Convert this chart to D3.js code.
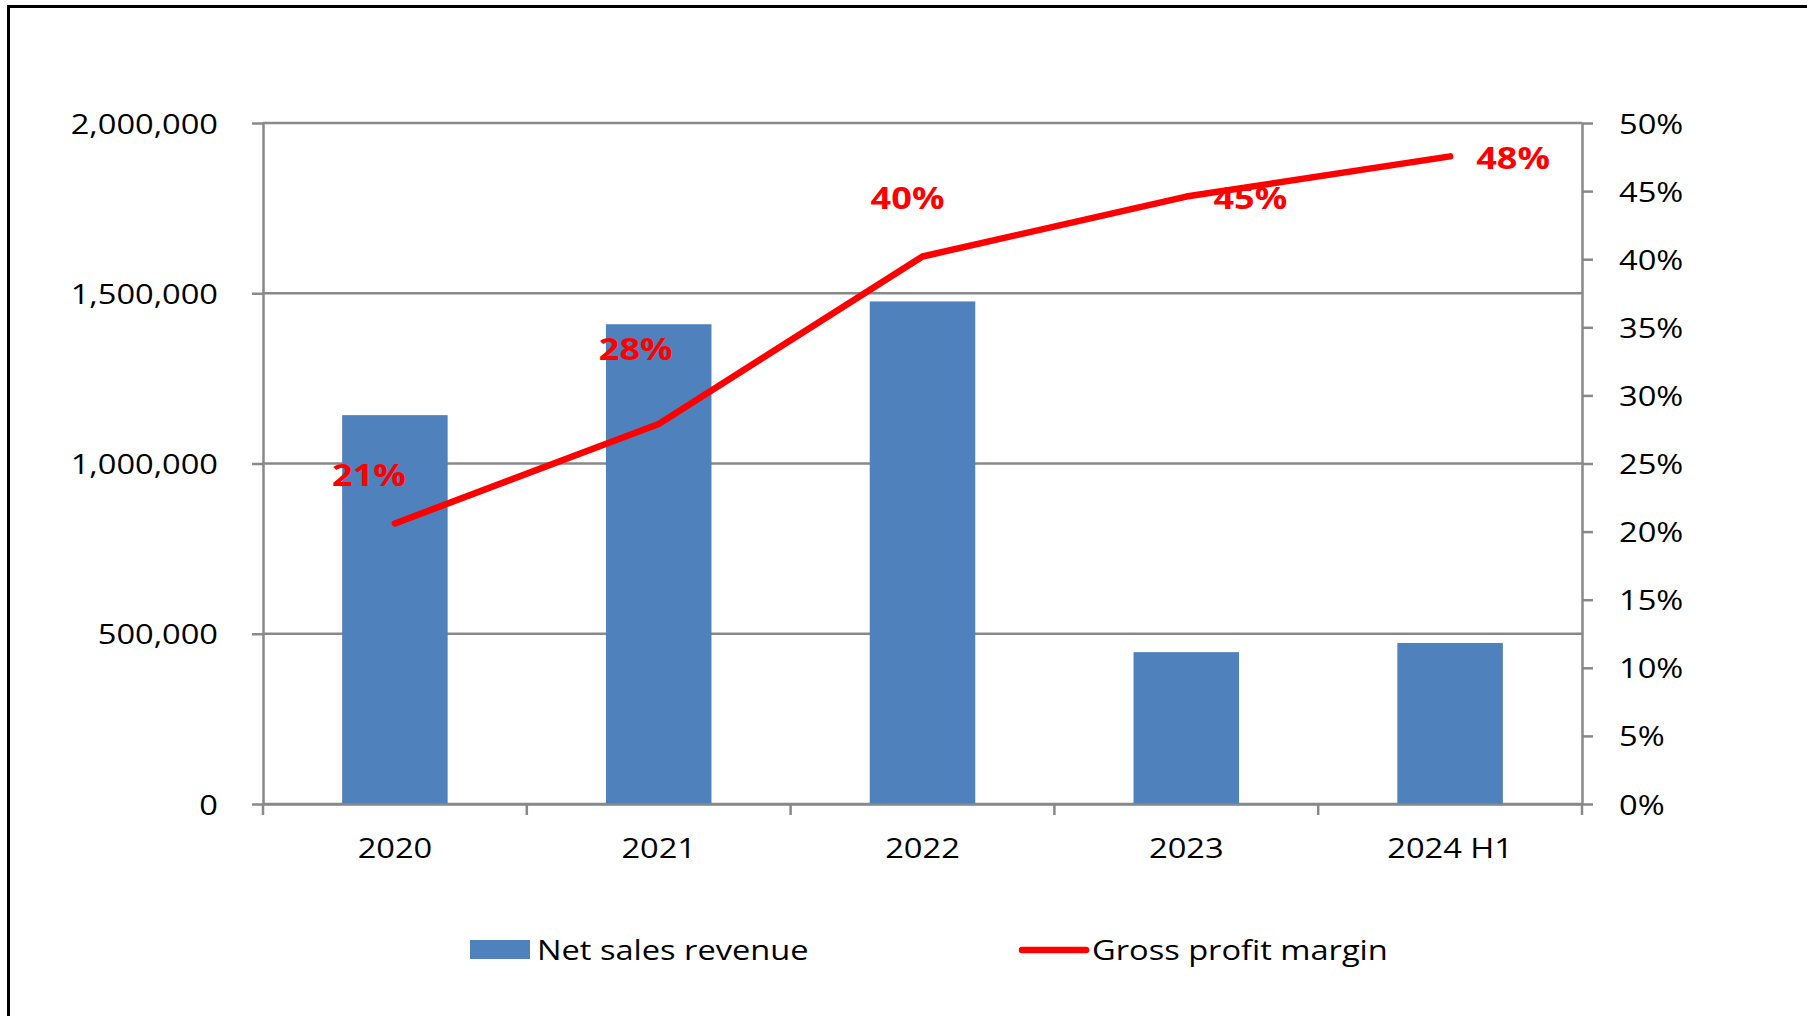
<!DOCTYPE html>
<html>
<head>
<meta charset="utf-8">
<script src="https://cdn.jsdelivr.net/npm/d3@7"></script>
<style>
	body { margin: 0; background: #fff; }
	svg { display: block; font-family: "Open Sans", "Noto Sans", sans-serif; }
</style>
</head>
<body>
<script>
// data
var categories = ["2020", "2021", "2022", "2023", "2024 H1"];
var revenue = [1142000, 1409000, 1476000, 446000, 473000];
var grossMargin = [0.206, 0.279, 0.402, 0.446, 0.4755];
var marginLabels = ["21%", "28%", "40%", "45%", "48%"];
var leftTicks = [0, 500000, 1000000, 1500000, 2000000];
var rightTicks = [0, 0.05, 0.1, 0.15, 0.2, 0.25, 0.3, 0.35, 0.4, 0.45, 0.5];
var seriesNames = ["Net sales revenue", "Gross profit margin"];

// manual label nudges (px from the point), as in the original
var labelDx = [-26, -23, -15, 64, 63], labelDy = [-49, -75, -59, 1, 1];

(function () {
	var width = 1807, height = 1016;
	var pL = 263, pR = 1582, pT = 123, pB = 804;
	var sx = 1.165; // source text is stretched sideways
	var grey = "#898989", blue = "#4f81bd", red = "#ff0000";

	var svg = d3.select("body").append("svg").attr("width", width).attr("height", height);

	// frame (runs off right and bottom)
	svg.append("path").attr("d", "M8.5," + height + "V6.5H" + width)
		.attr("fill", "none").attr("stroke", "#000").attr("stroke-width", 3);

	var x = d3.scaleBand().domain(categories).range([pL, pR]).paddingInner(0.6).paddingOuter(0.3);
	var yL = d3.scaleLinear().domain([0, 2000000]).range([pB, pT]);
	var yR = d3.scaleLinear().domain([0, 0.5]).range([pB, pT]);

	// gridlines
	svg.append("g").selectAll("line").data(leftTicks).enter().append("line")
		.attr("x1", pL).attr("x2", pR)
		.attr("y1", function(d){ return yL(d); }).attr("y2", function(d){ return yL(d); })
		.attr("stroke", grey).attr("stroke-width", 2.5);

	// bars
	svg.append("g").selectAll("rect").data(revenue).enter().append("rect")
		.attr("x", function(d, i){ return x(categories[i]); })
		.attr("width", x.bandwidth())
		.attr("y", function(d){ return yL(d); })
		.attr("height", function(d){ return pB - yL(d); })
		.attr("fill", blue);

	function styleAxis(g) {
		g.selectAll(".domain").attr("stroke", grey).attr("stroke-width", 2.5);
		g.selectAll(".tick line").attr("stroke", grey).attr("stroke-width", 2.5);
		g.selectAll("text").attr("font-size", 28).attr("fill", "#000")
			.attr("font-family", "'Open Sans', 'Noto Sans', sans-serif")
			.attr("transform", "scale(" + sx + ",1)");
	}

	// left axis
	var gL = svg.append("g").attr("transform", "translate(" + pL + ",0)")
		.call(d3.axisLeft(yL).tickValues(leftTicks).tickSize(11).tickSizeOuter(0)
			.tickPadding(45 / sx - 11).tickFormat(d3.format(",")));
	styleAxis(gL);
	gL.selectAll("text").attr("dy", "0.36em");

	// right axis
	var gR = svg.append("g").attr("transform", "translate(" + pR + ",0)")
		.call(d3.axisRight(yR).tickValues(rightTicks).tickSize(11).tickSizeOuter(0)
			.tickPadding(37 / sx - 11).tickFormat(d3.format(".0%")));
	styleAxis(gR);
	gR.selectAll("text").attr("dy", "0.36em");

	// bottom axis: labels at centres, ticks at category edges
	var gB = svg.append("g").attr("transform", "translate(0," + pB + ")")
		.call(d3.axisBottom(x).tickSize(0).tickSizeOuter(0).tickPadding(34));
	styleAxis(gB);
	svg.append("g").selectAll("line").data(d3.range(categories.length + 1)).enter().append("line")
		.attr("x1", function(i){ return pL + i * x.step(); })
		.attr("x2", function(i){ return pL + i * x.step(); })
		.attr("y1", pB).attr("y2", pB + 11)
		.attr("stroke", grey).attr("stroke-width", 2.5);

	// margin line
	var pts = grossMargin.map(function(v, i){ return {x: x(categories[i]) + x.bandwidth() / 2, y: yR(v)}; });
	svg.append("path").datum(pts)
		.attr("d", d3.line().x(function(d){ return d.x; }).y(function(d){ return d.y; }))
		.attr("fill", "none").attr("stroke", red).attr("stroke-width", 6.5)
		.attr("stroke-linejoin", "round").attr("stroke-linecap", "round");

	// data labels
	svg.append("g").selectAll("text").data(pts).enter().append("text")
		.attr("transform", function(d, i){
			return "translate(" + (d.x + labelDx[i]) + "," + (d.y + labelDy[i]) + ") scale(" + sx + ",1)";
		})
		.attr("dy", "0.36em").attr("text-anchor", "middle")
		.attr("font-size", 31).attr("font-weight", "bold").attr("fill", red)
		.text(function(d, i){ return marginLabels[i]; });

	// legend
	var lg = svg.append("g");
	lg.append("rect").attr("x", 470).attr("y", 940).attr("width", 60).attr("height", 19).attr("fill", blue);
	lg.append("text").attr("transform", "translate(537,950) scale(" + sx + ",1)").attr("dy", "0.36em")
		.attr("font-size", 28).text(seriesNames[0]);
	lg.append("line").attr("x1", 1022).attr("x2", 1086).attr("y1", 950).attr("y2", 950)
		.attr("stroke", red).attr("stroke-width", 6.5).attr("stroke-linecap", "round");
	lg.append("text").attr("transform", "translate(1092,950) scale(" + sx + ",1)").attr("dy", "0.36em")
		.attr("font-size", 28).text(seriesNames[1]);
})();
</script>
</body>
</html>
